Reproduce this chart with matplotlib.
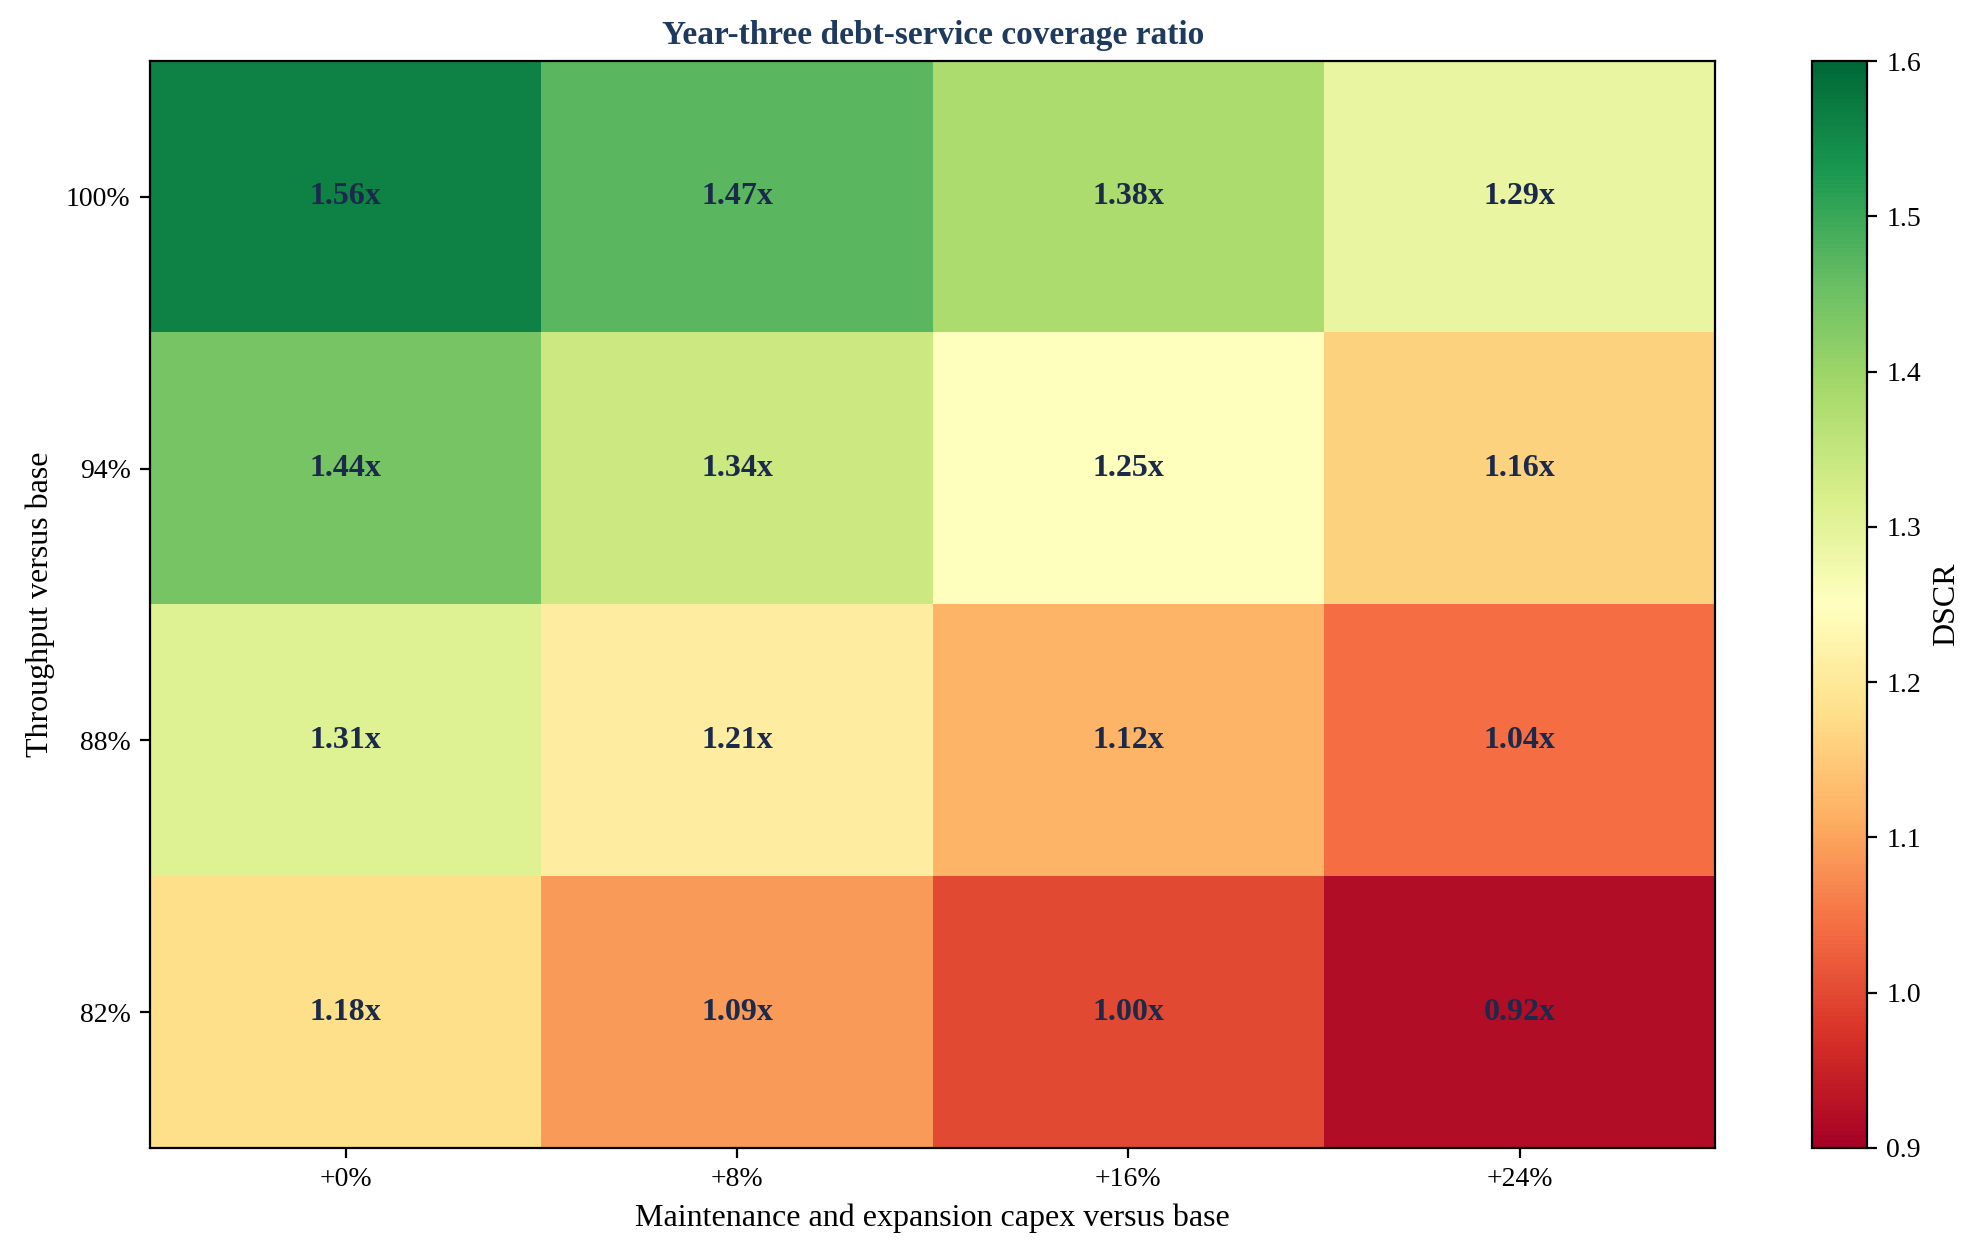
import matplotlib
matplotlib.use("Agg")
import matplotlib.pyplot as plt
import numpy as np

plt.rcParams["font.family"] = ["Liberation Serif", "DejaVu Serif"]

capex_labels = ["+0%", "+8%", "+16%", "+24%"]
throughput_labels = ["100%", "94%", "88%", "82%"]

dscr_100 = [1.56, 1.47, 1.38, 1.29]
dscr_94 = [1.44, 1.34, 1.25, 1.16]
dscr_88 = [1.31, 1.21, 1.12, 1.04]
dscr_82 = [1.18, 1.09, 1.00, 0.92]

grid = np.array([dscr_100, dscr_94, dscr_88, dscr_82])

fig = plt.figure(figsize=(9.925, 6.265), dpi=200)
ax = fig.add_axes([0.0756, 0.0838, 0.7886, 0.8675])
cax = fig.add_axes([0.9128, 0.0838, 0.0277, 0.8675])

im = ax.imshow(grid, cmap="RdYlGn", vmin=0.9, vmax=1.6, aspect="auto")

for i in range(grid.shape[0]):
    for j in range(grid.shape[1]):
        ax.text(j, i, f"{grid[i, j]:.2f}x", ha="center", va="center",
                fontsize=11.5, fontweight="bold", color="#1b2a4a")

ax.set_xticks(range(len(capex_labels)))
ax.set_xticklabels(capex_labels)
ax.set_yticks(range(len(throughput_labels)))
ax.set_yticklabels(throughput_labels)
ax.set_xlabel("Maintenance and expansion capex versus base", fontsize=11.5)
ax.set_ylabel("Throughput versus base", fontsize=11.5)
ax.set_title("Year-three debt-service coverage ratio", fontsize=12,
             fontweight="bold", color="#1f3a5f")

cb = fig.colorbar(im, cax=cax)
cb.set_label("DSCR", fontsize=11.5)

fig.savefig("out.png", dpi=200)
